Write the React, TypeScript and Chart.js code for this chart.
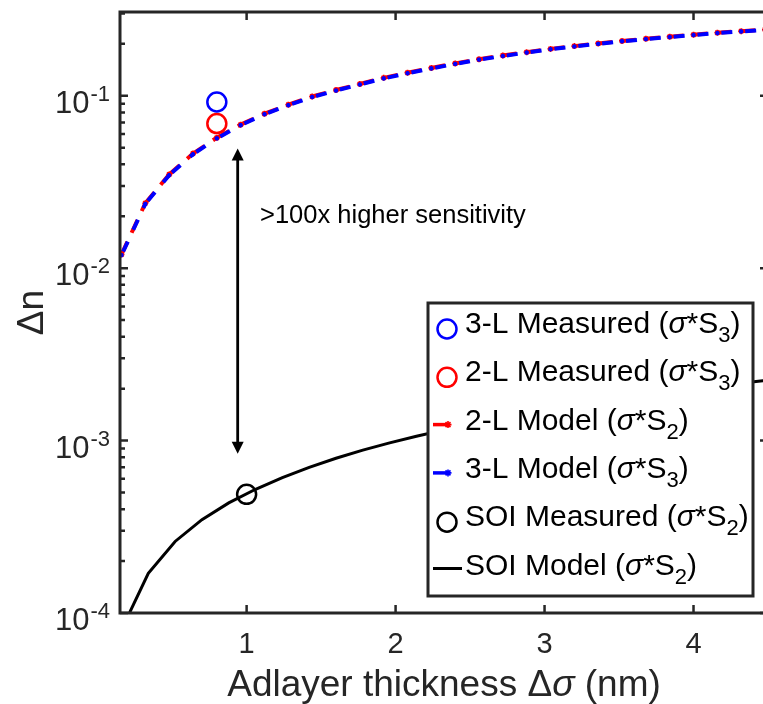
import React, { useEffect, useRef } from "react";
import { Chart, registerables } from "chart.js";

Chart.register(...registerables);

// ---------- data ----------
const modelX = [
  0.16, 0.32, 0.48, 0.64, 0.8, 0.96, 1.12, 1.28, 1.44, 1.6, 1.76, 1.92, 2.08, 2.24,
  2.4, 2.56, 2.72, 2.88, 3.04, 3.2, 3.36, 3.52, 3.68, 3.84, 4.0, 4.16, 4.32, 4.48,
];
const model2L = [
  0.012, 0.0238, 0.0349, 0.0462, 0.0571, 0.068, 0.0787, 0.0887, 0.099, 0.108, 0.117,
  0.127, 0.136, 0.145, 0.154, 0.163, 0.171, 0.179, 0.187, 0.194, 0.201, 0.208, 0.214,
  0.22, 0.226, 0.232, 0.237, 0.242,
];
const model3L = [
  0.0119, 0.0236, 0.0346, 0.0458, 0.0566, 0.0675, 0.0781, 0.0881, 0.0983, 0.1072,
  0.1162, 0.126, 0.135, 0.144, 0.153, 0.162, 0.17, 0.178, 0.186, 0.193, 0.2, 0.207,
  0.213, 0.219, 0.225, 0.231, 0.236, 0.241,
];
const soiX = [
  0.16, 0.34, 0.52, 0.7, 0.88, 1.06, 1.24, 1.42, 1.6, 1.78, 1.96, 2.14, 2.32, 2.5,
  2.68, 2.86, 3.04, 3.22, 3.4, 3.58, 3.76, 3.94, 4.12, 4.3, 4.48,
];
const soiModel = [
  8.0e-5, 1.7e-4, 2.6e-4, 3.48e-4, 4.35e-4, 5.22e-4, 6.1e-4, 7.0e-4, 7.9e-4, 8.8e-4,
  9.7e-4, 1.06e-3, 1.15e-3, 1.24e-3, 1.33e-3, 1.42e-3, 1.51e-3, 1.6e-3, 1.69e-3,
  1.78e-3, 1.87e-3, 1.96e-3, 2.05e-3, 2.14e-3, 2.23e-3,
];
const measured3LX = [0.8];
const measured3L = [0.092];
const measured2LX = [0.8];
const measured2L = [0.069];
const soiMeasuredX = [1.0];
const soiMeasured = [4.88e-4];

const xTicks = [1, 2, 3, 4];
const xTickLabels = ["1", "2", "3", "4"];
const yTickDecades = [-4, -3, -2, -1];
const yTickExponents = ["-4", "-3", "-2", "-1"];
const yMinorMultipliers = [2, 3, 4, 5, 6, 7, 8, 9];

const arrowX = [0.94];
const arrowEnds = [0.0494, 8.4e-4];
const annotationText = ">100x higher sensitivity";
const annotationPos = [1.09, 0.0182];

const legendNames = [
  "3-L Measured (",
  "2-L Measured (",
  "2-L Model (",
  "3-L Model (",
  "SOI Measured (",
  "SOI Model (",
];
const legendSubs = ["3", "3", "2", "3", "2", "2"];

const FONT = '"Liberation Sans", Arial, Helvetica, sans-serif';
const AXIS = "#262626";

const pts = (xs: number[], ys: number[]) => xs.map((x, i) => ({ x, y: ys[i] }));

function drawStar(ctx: CanvasRenderingContext2D, x: number, y: number, r: number, color: string) {
  ctx.save();
  ctx.strokeStyle = color;
  ctx.lineWidth = 1.6;
  ctx.beginPath();
  for (let k = 0; k < 4; k++) {
    const a = (k * Math.PI) / 4;
    ctx.moveTo(x - r * Math.cos(a), y - r * Math.sin(a));
    ctx.lineTo(x + r * Math.cos(a), y + r * Math.sin(a));
  }
  ctx.stroke();
  ctx.restore();
}

const decor = {
  id: "decor",
  afterDatasetsDraw(chart: any) {
    const ctx: CanvasRenderingContext2D = chart.ctx;
    const xs = chart.scales.x;
    const ys = chart.scales.y;
    ctx.save();
    ctx.setLineDash([]);
    // double arrow
    const ax = xs.getPixelForValue(arrowX[0]);
    const yTop = ys.getPixelForValue(arrowEnds[0]);
    const yBot = ys.getPixelForValue(arrowEnds[1]);
    const head = 12;
    const hw = 6;
    ctx.strokeStyle = "#000";
    ctx.fillStyle = "#000";
    ctx.lineWidth = 2.8;
    ctx.beginPath();
    ctx.moveTo(ax, yTop + head - 1);
    ctx.lineTo(ax, yBot - head + 1);
    ctx.stroke();
    ctx.beginPath();
    ctx.moveTo(ax, yTop);
    ctx.lineTo(ax - hw, yTop + head);
    ctx.lineTo(ax + hw, yTop + head);
    ctx.closePath();
    ctx.fill();
    ctx.beginPath();
    ctx.moveTo(ax, yBot);
    ctx.lineTo(ax - hw, yBot - head);
    ctx.lineTo(ax + hw, yBot - head);
    ctx.closePath();
    ctx.fill();
    // annotation
    ctx.font = `25.5px ${FONT}`;
    ctx.textAlign = "left";
    ctx.textBaseline = "alphabetic";
    ctx.fillText(annotationText, xs.getPixelForValue(annotationPos[0]), ys.getPixelForValue(annotationPos[1]));
    ctx.restore();
  },
  afterDraw(chart: any) {
    const ctx: CanvasRenderingContext2D = chart.ctx;
    const xs = chart.scales.x;
    const ys = chart.scales.y;
    const { left, right, top, bottom } = chart.chartArea;
    ctx.save();
    ctx.setLineDash([]);
    // axes box
    ctx.strokeStyle = AXIS;
    ctx.lineWidth = 3;
    ctx.lineJoin = "miter";
    ctx.beginPath();
    ctx.moveTo(right, top);
    ctx.lineTo(left, top);
    ctx.lineTo(left, bottom);
    ctx.lineTo(right, bottom);
    ctx.closePath();
    ctx.stroke();

    // x ticks
    ctx.lineWidth = 2.5;
    ctx.fillStyle = AXIS;
    ctx.font = `29px ${FONT}`;
    ctx.textAlign = "center";
    ctx.textBaseline = "alphabetic";
    xTicks.forEach((t, i) => {
      const px = xs.getPixelForValue(t);
      ctx.beginPath();
      ctx.moveTo(px, bottom);
      ctx.lineTo(px, bottom - 8);
      ctx.moveTo(px, top);
      ctx.lineTo(px, top + 8);
      ctx.stroke();
      ctx.fillText(xTickLabels[i], px, bottom + 40);
    });

    // y ticks
    yTickDecades.forEach((d, i) => {
      const py = ys.getPixelForValue(Math.pow(10, d));
      ctx.beginPath();
      ctx.moveTo(left, py);
      ctx.lineTo(left + 8, py);
      ctx.moveTo(right, py);
      ctx.lineTo(right - 8, py);
      ctx.stroke();
      yMinorMultipliers.forEach((m) => {
        const v = m * Math.pow(10, d);
        if (v >= ys.min && v <= ys.max) {
          const p = ys.getPixelForValue(v);
          ctx.beginPath();
          ctx.moveTo(left, p);
          ctx.lineTo(left + 5, p);
          ctx.moveTo(right, p);
          ctx.lineTo(right - 5, p);
          ctx.stroke();
        }
      });
      // label 10^d
      ctx.textAlign = "right";
      ctx.font = `22px ${FONT}`;
      const supW = ctx.measureText(yTickExponents[i]).width;
      ctx.fillText(yTickExponents[i], left - 10, py + 5);
      ctx.font = `31px ${FONT}`;
      ctx.fillText("10", left - 10 - supW - 1, py + 17);
    });

    // axis titles
    ctx.fillStyle = AXIS;
    ctx.textBaseline = "alphabetic";
    const cx = (left + right) / 2;
    const segs: [string, string][] = [
      ["Adlayer thickness \u0394", `37px ${FONT}`],
      ["\u03c3", `italic 37px ${FONT}`],
      [" (nm)", `37px ${FONT}`],
    ];
    let total = 0;
    segs.forEach(([t, f]) => {
      ctx.font = f;
      total += ctx.measureText(t).width;
    });
    let xx = cx - total / 2;
    ctx.textAlign = "left";
    segs.forEach(([t, f]) => {
      ctx.font = f;
      ctx.fillText(t, xx, bottom + 83);
      xx += ctx.measureText(t).width;
    });
    ctx.save();
    ctx.translate(43, (top + bottom) / 2);
    ctx.rotate(-Math.PI / 2);
    ctx.textAlign = "center";
    ctx.font = `37px ${FONT}`;
    ctx.fillText("\u0394n", 0, 0);
    ctx.restore();

    // legend
    const lx = 428, ly = 303, lw = 325, lh = 293;
    ctx.fillStyle = "#fff";
    ctx.fillRect(lx, ly, lw, lh);
    ctx.strokeStyle = AXIS;
    ctx.lineWidth = 3;
    ctx.strokeRect(lx, ly, lw, lh);
    const colors = ["#0000ff", "#ff0000", "#ff0000", "#0000ff", "#000000", "#000000"];
    legendNames.forEach((name, i) => {
      const base = 333 + i * 48.3;
      const c = colors[i];
      if (i === 0 || i === 1 || i === 4) {
        ctx.strokeStyle = c;
        ctx.lineWidth = 2.5;
        ctx.beginPath();
        ctx.arc(447, base - 4, 9.5, 0, Math.PI * 2);
        ctx.stroke();
      } else if (i === 2 || i === 3) {
        ctx.strokeStyle = c;
        ctx.lineWidth = 3.5;
        ctx.beginPath();
        ctx.moveTo(433, base - 5);
        ctx.lineTo(449, base - 5);
        ctx.stroke();
        drawStar(ctx, 448, base - 5, 3.5, c);
      } else {
        ctx.strokeStyle = c;
        ctx.lineWidth = 3;
        ctx.beginPath();
        ctx.moveTo(433, base - 6);
        ctx.lineTo(462, base - 6);
        ctx.stroke();
      }
      ctx.fillStyle = "#000";
      ctx.textAlign = "left";
      let tx = 465;
      const parts: [string, string, number][] = [
        [name, `30px ${FONT}`, 0],
        ["\u03c3", `italic 30px ${FONT}`, 0],
        ["*", `30px ${FONT}`, 0],
        ["S", `30px ${FONT}`, 0],
        [legendSubs[i], `22px ${FONT}`, 9],
        [")", `30px ${FONT}`, 0],
      ];
      parts.forEach(([t, f, dy]) => {
        ctx.font = f;
        ctx.fillText(t, tx, base + dy);
        tx += ctx.measureText(t).width;
      });
    });
    ctx.restore();
  },
};

// alternate a negligible offset so that each segment is stroked separately
const segDash = (base: number) => (c: any) => base + (c.p0DataIndex % 2) * 0.001;

export default function App() {
  const ref = useRef<HTMLCanvasElement | null>(null);
  useEffect(() => {
    document.body.style.margin = "0";
    const canvas = ref.current;
    if (!canvas) return;
    const chart = new Chart(canvas, {
      type: "line",
      data: {
        datasets: [
          {
            label: "3-L Measured",
            data: pts(measured3LX, measured3L),
            showLine: false,
            pointStyle: "circle",
            pointRadius: 9.5,
            pointBorderWidth: 2.5,
            borderColor: "#0000ff",
            pointBorderColor: "#0000ff",
            pointBackgroundColor: "rgba(0,0,0,0)",
            order: 1,
          },
          {
            label: "2-L Measured",
            data: pts(measured2LX, measured2L),
            showLine: false,
            pointStyle: "circle",
            pointRadius: 9.5,
            pointBorderWidth: 2.5,
            borderColor: "#ff0000",
            pointBorderColor: "#ff0000",
            pointBackgroundColor: "rgba(0,0,0,0)",
            order: 2,
          },
          {
            label: "SOI Measured",
            data: pts(soiMeasuredX, soiMeasured),
            showLine: false,
            pointStyle: "circle",
            pointRadius: 9.5,
            pointBorderWidth: 2.5,
            borderColor: "#000000",
            pointBorderColor: "#000000",
            pointBackgroundColor: "rgba(0,0,0,0)",
            order: 3,
          },
          {
            label: "3-L Model",
            data: pts(modelX, model3L),
            borderColor: "#0000ff",
            borderWidth: 4,
            borderDash: [11, 13],
            borderDashOffset: -4,
            segment: { borderDashOffset: segDash(-4) },
            pointStyle: "star",
            pointRadius: 2.2,
            pointBorderWidth: 1.5,
            pointBorderColor: "#0000ff",
            pointBackgroundColor: "#0000ff",
            tension: 0,
            order: 4,
          },
          {
            label: "2-L Model",
            data: pts(modelX, model2L),
            borderColor: "#ff0000",
            borderWidth: 4,
            borderDash: [14, 10],
            borderDashOffset: 0,
            segment: { borderDashOffset: segDash(0) },
            pointStyle: "star",
            pointRadius: 3,
            pointBorderWidth: 1.7,
            pointBorderColor: "#ff0000",
            pointBackgroundColor: "#ff0000",
            tension: 0,
            order: 5,
          },
          {
            label: "SOI Model",
            data: pts(soiX, soiModel),
            borderColor: "#000000",
            borderWidth: 3,
            pointRadius: 0,
            tension: 0,
            clip: 1,
            order: 6,
          },
        ],
      },
      options: {
        responsive: false,
        animation: false,
        events: [],
        layout: { padding: { left: 120, top: 10, right: 10, bottom: 91 } },
        plugins: { legend: { display: false }, tooltip: { enabled: false } },
        scales: {
          x: { type: "linear", min: 0.15, max: 4.5, display: false },
          y: { type: "logarithmic", min: 1e-4, max: 0.306, display: false },
        },
      },
      plugins: [decor],
    } as any);
    return () => chart.destroy();
  }, []);
  return (
    <div style={{ width: 763, height: 704, overflow: "hidden", background: "#fff" }}>
      <canvas ref={ref} width={780} height={704} style={{ display: "block" }} />
    </div>
  );
}
